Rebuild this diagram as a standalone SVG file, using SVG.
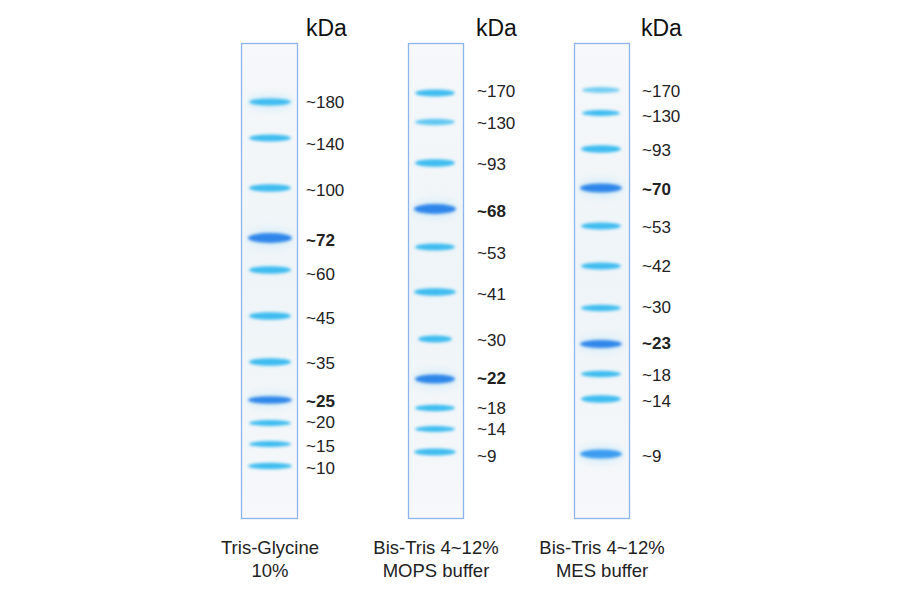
<svg xmlns="http://www.w3.org/2000/svg" width="900" height="594" viewBox="0 0 900 594">
<defs>
<filter id="blur" x="-30%" y="-200%" width="160%" height="500%"><feGaussianBlur stdDeviation="1.7"/></filter>
<filter id="halo" x="-30%" y="-300%" width="160%" height="700%"><feGaussianBlur stdDeviation="5"/></filter>
<linearGradient id="laneg" x1="0" y1="0" x2="0" y2="1"><stop offset="0" stop-color="#f6f8fa"/><stop offset="0.5" stop-color="#eef4f8"/><stop offset="1" stop-color="#f6f8fa"/></linearGradient>
</defs>
<style>
.lane{fill:url(#laneg);stroke:#8eb4ec;stroke-width:1.3}
.band{fill:#3cbcf0;filter:url(#blur)}
.strong{fill:#2f86ea;filter:url(#blur)}
.glow{fill:#bfe6f7;opacity:0.6;filter:url(#halo)}
.lbl{font-family:"Liberation Sans",Arial,sans-serif;font-size:17px;fill:#222}
.b{font-weight:bold}
.kda{font-family:"Liberation Sans",Arial,sans-serif;font-size:23px;fill:#111}
.cap{font-family:"Liberation Sans",Arial,sans-serif;font-size:18.5px;fill:#222;text-anchor:middle}
</style>
<rect width="900" height="594" fill="#ffffff"/>

<g id="lane1">
<rect class="lane" x="241.5" y="43.5" width="56" height="475"/>
<g>
<ellipse class="glow" cx="270" cy="102" rx="22" ry="7"/>
<ellipse class="glow" cx="270" cy="238" rx="22" ry="8"/>
<ellipse class="glow" cx="270" cy="400" rx="22" ry="7"/>
<ellipse class="band" cx="270" cy="102" rx="21" ry="3.5"/>
<ellipse class="band" cx="270" cy="138" rx="21" ry="3.5"/>
<ellipse class="band" cx="270" cy="188" rx="21" ry="3.8"/>
<ellipse class="strong" cx="270" cy="238" rx="22" ry="5"/>
<ellipse class="band" cx="270" cy="270" rx="21" ry="3.8"/>
<ellipse class="band" cx="270" cy="316" rx="21" ry="3.8"/>
<ellipse class="band" cx="270" cy="362" rx="21" ry="3.8"/>
<ellipse class="strong" cx="270" cy="400" rx="22" ry="3.8"/>
<ellipse class="band" cx="270" cy="423" rx="21" ry="3"/>
<ellipse class="band" cx="270" cy="444" rx="21" ry="3"/>
<ellipse class="band" cx="270" cy="466" rx="22" ry="3.2"/>
</g>
<text class="kda" x="306" y="36">kDa</text>
<text class="lbl" x="306" y="108">~180</text>
<text class="lbl" x="306" y="150">~140</text>
<text class="lbl" x="306" y="196">~100</text>
<text class="lbl b" x="306" y="246">~72</text>
<text class="lbl" x="306" y="280">~60</text>
<text class="lbl" x="306" y="324">~45</text>
<text class="lbl" x="306" y="369">~35</text>
<text class="lbl b" x="306" y="407">~25</text>
<text class="lbl" x="306" y="428">~20</text>
<text class="lbl" x="306" y="452">~15</text>
<text class="lbl" x="306" y="474">~10</text>
<text class="cap" x="270" y="554">Tris-Glycine</text>
<text class="cap" x="270" y="577">10%</text>
</g>

<g id="lane2">
<rect class="lane" x="408.5" y="43.5" width="55" height="475"/>
<g>
<ellipse class="glow" cx="435" cy="209" rx="22" ry="8"/>
<ellipse class="glow" cx="435" cy="379" rx="22" ry="8"/>
<ellipse class="band" cx="435" cy="93" rx="20" ry="3.5"/>
<ellipse class="band" cx="435" cy="122" rx="20" ry="3.2" opacity="0.8"/>
<ellipse class="band" cx="435" cy="163" rx="20" ry="3.8"/>
<ellipse class="strong" cx="435" cy="209" rx="21" ry="5"/>
<ellipse class="band" cx="435" cy="247" rx="20" ry="3.5"/>
<ellipse class="band" cx="435" cy="292" rx="21" ry="3.8"/>
<ellipse class="band" cx="435" cy="339" rx="17" ry="3.5"/>
<ellipse class="strong" cx="435" cy="379" rx="20" ry="4.5"/>
<ellipse class="band" cx="435" cy="408" rx="20" ry="3.2"/>
<ellipse class="band" cx="435" cy="429" rx="20" ry="3"/>
<ellipse class="band" cx="435" cy="452" rx="21" ry="3.5"/>
</g>
<text class="kda" x="476" y="36">kDa</text>
<text class="lbl" x="477" y="97">~170</text>
<text class="lbl" x="477" y="129">~130</text>
<text class="lbl" x="477" y="170">~93</text>
<text class="lbl b" x="477" y="217">~68</text>
<text class="lbl" x="477" y="259">~53</text>
<text class="lbl" x="477" y="300">~41</text>
<text class="lbl" x="477" y="346">~30</text>
<text class="lbl b" x="477" y="384">~22</text>
<text class="lbl" x="477" y="414">~18</text>
<text class="lbl" x="477" y="435">~14</text>
<text class="lbl" x="477" y="462">~9</text>
<text class="cap" x="436" y="554">Bis-Tris 4~12%</text>
<text class="cap" x="436" y="577">MOPS buffer</text>
</g>

<g id="lane3">
<rect class="lane" x="574.5" y="43.5" width="55" height="475"/>
<g>
<ellipse class="glow" cx="601" cy="188" rx="22" ry="8"/>
<ellipse class="glow" cx="601" cy="344" rx="22" ry="7"/>
<ellipse class="glow" cx="601" cy="454" rx="22" ry="8"/>
<ellipse class="band" cx="601" cy="90" rx="19" ry="3" opacity="0.7"/>
<ellipse class="band" cx="601" cy="113" rx="19" ry="3"/>
<ellipse class="band" cx="601" cy="149" rx="20" ry="3.8"/>
<ellipse class="strong" cx="601" cy="188" rx="21" ry="4.5"/>
<ellipse class="band" cx="601" cy="226" rx="20" ry="3.5"/>
<ellipse class="band" cx="601" cy="266" rx="20" ry="3.5"/>
<ellipse class="band" cx="601" cy="308" rx="20" ry="3.2"/>
<ellipse class="strong" cx="601" cy="344" rx="21" ry="4"/>
<ellipse class="band" cx="601" cy="374" rx="20" ry="3.2"/>
<ellipse class="band" cx="601" cy="399" rx="20" ry="3.8"/>
<ellipse class="strong" cx="601" cy="454" rx="21" ry="4.5" style="fill:#3a9cf0"/>
</g>
<text class="kda" x="641" y="36">kDa</text>
<text class="lbl" x="642" y="97">~170</text>
<text class="lbl" x="642" y="122">~130</text>
<text class="lbl" x="642" y="156">~93</text>
<text class="lbl b" x="642" y="195">~70</text>
<text class="lbl" x="642" y="233">~53</text>
<text class="lbl" x="642" y="272">~42</text>
<text class="lbl" x="642" y="313">~30</text>
<text class="lbl b" x="642" y="349">~23</text>
<text class="lbl" x="642" y="381">~18</text>
<text class="lbl" x="642" y="407">~14</text>
<text class="lbl" x="642" y="462">~9</text>
<text class="cap" x="602" y="554">Bis-Tris 4~12%</text>
<text class="cap" x="602" y="577">MES buffer</text>
</g>
</svg>
